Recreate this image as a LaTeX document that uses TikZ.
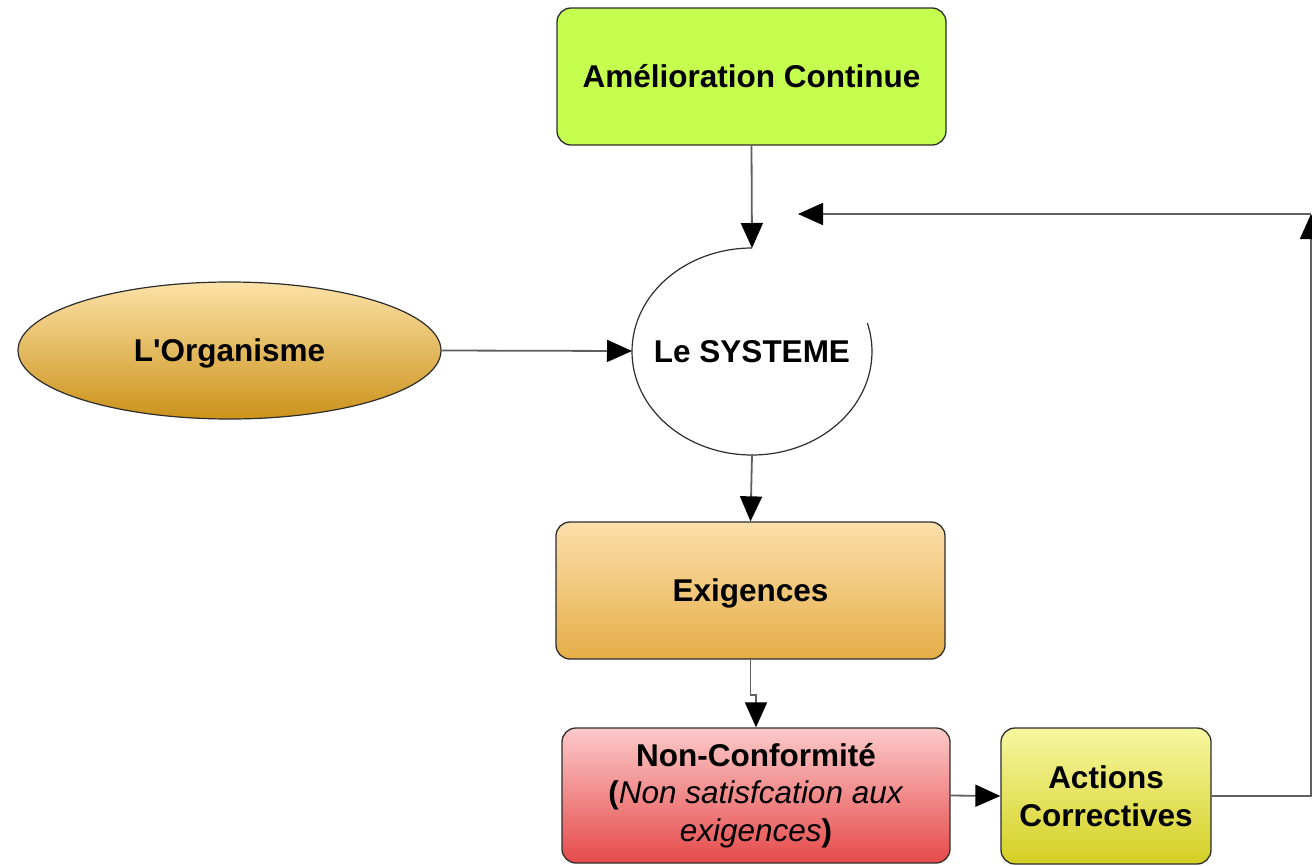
\documentclass[tikz,border=0pt]{standalone}
\usepackage{fontspec}
\setmainfont{Liberation Sans}
\usetikzlibrary{arrows.meta,shapes.geometric,calc}
\definecolor{amel}{RGB}{198,254,79}
\definecolor{orgT}{RGB}{251,226,166}
\definecolor{orgB}{RGB}{204,146,27}
\definecolor{exiT}{RGB}{253,223,171}
\definecolor{exiB}{RGB}{228,174,71}
\definecolor{ncT}{RGB}{252,201,201}
\definecolor{ncB}{RGB}{230,74,74}
\definecolor{acT}{RGB}{247,247,160}
\definecolor{acB}{RGB}{212,207,36}
\definecolor{edge}{RGB}{45,45,45}
\definecolor{conn}{RGB}{95,95,95}
\begin{document}
\begin{tikzpicture}[x=1pt,y=-1pt,
  txt/.style={font=\fontsize{31.5}{37.5}\selectfont\bfseries, align=center, text=black},
  oneline/.style={text height=22.5pt, text depth=0pt},
  boxnode/.style={txt, draw=edge, line width=1.3pt, rounded corners=14pt, inner sep=0pt},
  arr/.style={draw=conn, line width=1.8pt, -{Triangle[length=25pt,width=22pt,fill=black,color=black]}},
  plain/.style={draw=conn, line width=1.8pt}]
\useasboundingbox (0,0) rectangle (1312,865);

\node[boxnode, oneline, fill=amel, minimum width=389pt, minimum height=137pt] (amel) at (751.5,76.5) {Amélioration Continue};

\node[txt, oneline, draw=edge, line width=1.2pt, ellipse, top color=orgT, bottom color=orgB,
      minimum width=423pt, minimum height=137pt, inner sep=0pt] (org) at (229.5,350.5) {L\textquotesingle Organisme};

\node[txt, oneline] (sys) at (752,351.5) {Le SYSTEME};
\coordinate (sysN) at (752,248);
\coordinate (sysW) at (632,351);
\coordinate (sysS) at (752,455);
\draw[edge, line width=1.2pt] (sysN) arc[start angle=-90, end angle=-376, x radius=120, y radius=103.5];

\node[boxnode, oneline, top color=exiT, bottom color=exiB, minimum width=389pt, minimum height=137pt] (exi) at (750.5,590.5) {Exigences};

\node[boxnode, top color=ncT, bottom color=ncB, minimum width=388pt, minimum height=135pt] (nc) at (756,795.5)
  {Non-Conformité\\ (\textit{\mdseries Non satisfcation aux}\\ \textit{\mdseries exigences})};

\node[boxnode, top color=acT, bottom color=acB, minimum width=210pt, minimum height=136pt] (ac) at (1106,796) {Actions\\ Correctives};

\coordinate (fbR) at (1311,214);
\coordinate (fbL) at (798,214);

\draw[arr] (amel.south) -- (sysN);
\draw[arr] (org.east) -- (sysW);
\draw[arr] (sysS) -- (exi.north);
\draw[arr] (exi.south) -- ++(0,35) -| (nc.north);
\draw[arr] (nc.east) -- (ac.west);
\draw[arr] (ac.east) -- (ac.east -| fbR) -- (fbR);
\draw[arr] (fbR) -- (fbL);
\end{tikzpicture}
\end{document}
